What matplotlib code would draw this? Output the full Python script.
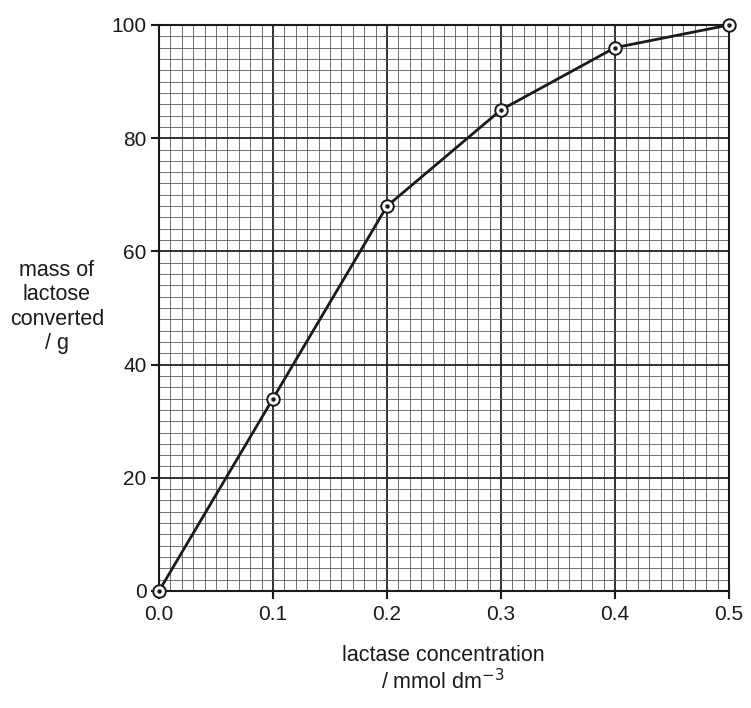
import numpy as np
import matplotlib
matplotlib.use('Agg')
import matplotlib.pyplot as plt

plt.rcParams['font.family'] = ['Liberation Sans', 'DejaVu Sans']

# data
concentration = [0.0, 0.1, 0.2, 0.3, 0.4, 0.5]
mass_converted = [0, 34, 68, 85, 96, 100]

x_ticks = [0.0, 0.1, 0.2, 0.3, 0.4, 0.5]
x_ticklabels = ['0.0', '0.1', '0.2', '0.3', '0.4', '0.5']
y_ticks = [0, 20, 40, 60, 80, 100]

fig = plt.figure(figsize=(7.51, 7.08), dpi=100)
ax = fig.add_axes([159 / 751, 117 / 708, 570 / 751, 566 / 708])

ax.set_xlim(0, 0.5)
ax.set_ylim(0, 100)

# graph paper: fine lines and bold lines
for xv in np.arange(0.01, 0.5, 0.01):
    k = int(round(xv * 100))
    if k % 10 == 0:
        ax.axvline(xv, color='#222222', lw=1.3, zorder=1)
    else:
        ax.axvline(xv, color='#5a5a5a', lw=0.6, zorder=1)
for yv in range(2, 100, 2):
    if yv % 20 == 0:
        ax.axhline(yv, color='#222222', lw=1.3, zorder=1)
    else:
        ax.axhline(yv, color='#5a5a5a', lw=0.6, zorder=1)

ax.plot(concentration, mass_converted, '-', color='#1a1a1a', lw=2.0, zorder=3,
        clip_on=False)
ax.plot(concentration, mass_converted, 'o', ms=9, mfc='white', mec='#1a1a1a',
        mew=1.4, zorder=4, clip_on=False)
ax.plot(concentration, mass_converted, 'o', ms=2.2, color='#1a1a1a', zorder=5,
        clip_on=False)

for s in ax.spines.values():
    s.set_linewidth(1.5)
    s.set_color('#1a1a1a')

ax.set_xticks(x_ticks)
ax.set_xticklabels(x_ticklabels)
ax.set_yticks(y_ticks)
ax.tick_params(direction='out', length=6, width=1.5, labelsize=15, color='#1a1a1a',
               labelcolor='#1a1a1a')
ax.tick_params(axis='x', pad=4)
ax.tick_params(axis='y', pad=3)

fig.text(57 / 751, 1 - 307 / 708, 'mass of\nlactose\nconverted\n/ g', ha='center',
         va='center', fontsize=15.5, color='#1a1a1a', linespacing=1.22)
fig.text(443 / 751, 1 - 670 / 708, 'lactase concentration\n/ mmol dm$^{-3}$', ha='center',
         va='center', fontsize=15.5, color='#1a1a1a', linespacing=1.15)

fig.savefig('out.png', dpi=100, facecolor='white')
